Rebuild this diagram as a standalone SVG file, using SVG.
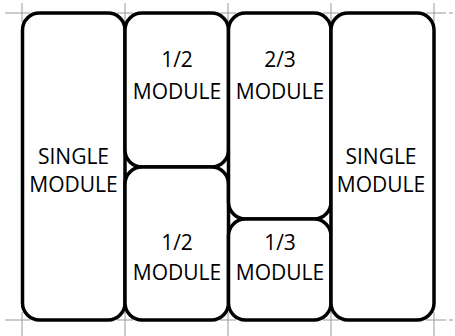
<svg xmlns="http://www.w3.org/2000/svg" width="455" height="336" viewBox="0 0 455 336">
<style>
.box{fill:#fff;stroke:#000;stroke-width:3.5}
.guide{stroke:#999;stroke-width:1;fill:none}
text{font-family:"Open Sans","Liberation Sans",sans-serif;font-size:21px;fill:#000;text-anchor:middle}
</style>
<rect width="455" height="336" fill="#fff"/>
<g id="guides">
<path class="guide" d="M5 13H30M22 3V22M117 13H133M125 3V22M220 13H236M228 3V22M323 13H339M331 3V22M426 13H442M434 3V22"/>
<path class="guide" d="M442 13H455" stroke-dasharray="4 3"/>
<path class="guide" d="M5 320H30M22 312V336M117 320H133M125 312V336M220 320H236M228 312V336M323 320H339M331 312V336M426 320H442M434 312V336"/>
<path class="guide" d="M442 320H455" stroke-dasharray="4 3"/>
</g>
<g id="single-left"><rect class="box" x="22.5" y="13" width="102.5" height="307" rx="17"/><text x="73.5" y="164">SINGLE</text><text x="73.5" y="192">MODULE</text></g>
<g id="half-top"><rect class="box" x="125" y="13" width="103.5" height="154" rx="17"/><text x="177" y="67">1/2</text><text x="177" y="99">MODULE</text></g>
<g id="half-bottom"><rect class="box" x="125" y="167" width="103.5" height="153" rx="17"/><text x="177" y="250">1/2</text><text x="177" y="280">MODULE</text></g>
<g id="twothirds"><rect class="box" x="228.5" y="13" width="102.5" height="206" rx="17"/><text x="280" y="67">2/3</text><text x="280" y="99">MODULE</text></g>
<g id="onethird"><rect class="box" x="228.5" y="219" width="102.5" height="101" rx="17"/><text x="280" y="250">1/3</text><text x="280" y="280">MODULE</text></g>
<g id="single-right"><rect class="box" x="331" y="13" width="103" height="307" rx="17"/><text x="381" y="164">SINGLE</text><text x="381" y="192">MODULE</text></g>
<g id="connectors"></g>
</svg>
